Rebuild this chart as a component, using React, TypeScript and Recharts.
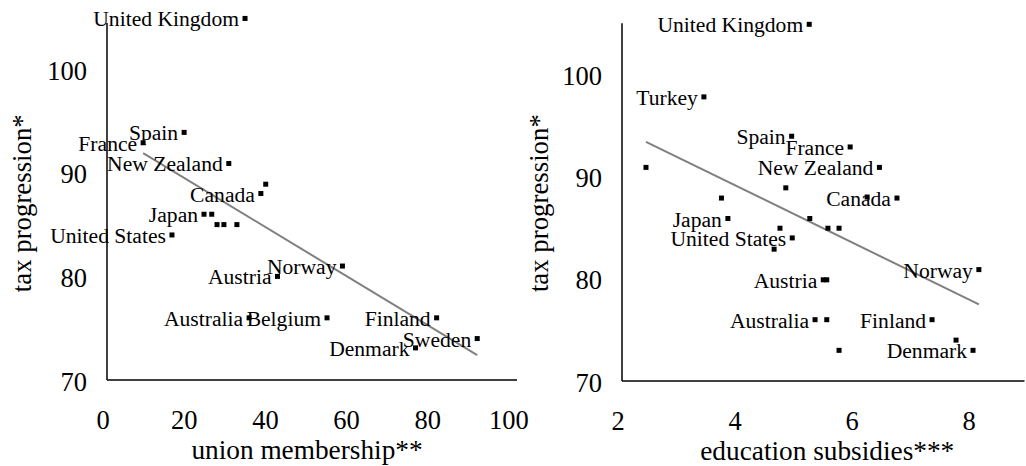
import { ScatterChart, Scatter, XAxis, YAxis, ReferenceLine } from 'recharts';

const FONT = "'Liberation Serif', 'Times New Roman', Times, serif";

// left panel: union membership vs tax progression
const unionNames = ['United Kingdom', 'Spain', 'France', 'New Zealand', 'Canada', '', 'Japan', '', '', '', '', 'United States', 'Austria', 'Norway', 'Australia', 'Belgium', 'Finland', 'Sweden', 'Denmark'];
const unionX = [34.0, 19.0, 8.9, 30.0, 37.9, 39.1, 23.9, 25.8, 27.1, 28.8, 32.0, 16.0, 42.0, 58.0, 35.0, 54.2, 81.2, 91.2, 76.0];
const unionTax = [104.9, 93.9, 92.9, 90.9, 88.0, 88.9, 86.0, 86.0, 85.0, 85.0, 85.0, 84.0, 80.0, 81.0, 76.0, 76.0, 76.0, 74.0, 73.1];
const unionTicks = [0, 20, 40, 60, 80, 100];
const unionTrendX = [8.9, 91.2];
const unionTrendY = [91.9, 72.4];

// right panel: education subsidies vs tax progression
const eduNames = ['United Kingdom', 'Turkey', '', 'Spain', 'France', 'New Zealand', 'Canada', '', '', '', 'Japan', '', '', '', '', 'United States', '', 'Austria', '', 'Norway', 'Australia', '', 'Finland', '', 'Denmark', ''];
const eduX = [5.20, 3.40, 2.41, 4.90, 5.90, 6.40, 6.70, 6.19, 4.80, 3.70, 3.81, 5.21, 5.52, 5.71, 4.70, 4.91, 4.60, 5.44, 5.50, 8.10, 5.30, 5.50, 7.30, 5.71, 8.00, 7.71];
const eduTax = [104.9, 97.8, 90.9, 93.95, 92.9, 90.9, 87.9, 88.0, 88.9, 87.9, 85.9, 85.9, 84.95, 84.95, 84.95, 84.0, 82.9, 79.9, 79.9, 80.9, 76.0, 76.0, 76.0, 73.0, 73.0, 74.0];
const eduTicks = [2, 4, 6, 8];
const eduTrendX = [2.41, 8.1];
const eduTrendY = [93.4, 77.5];

const taxTicks = [70, 80, 90, 100];

const toPoints = (names: string[], xs: number[], ys: number[]) =>
  xs.map((x, i) => ({ x, y: ys[i], name: names[i] }));

const txt = (size: number) => ({ fontFamily: FONT, fontSize: size, fill: '#000' });

function Point(props: any) {
  const { cx, cy, payload } = props;
  return (
    <g>
      <rect x={cx - 2.5} y={cy - 2.5} width={5} height={5} fill="#000" />
      {payload.name ? (
        <text x={cx - 6} y={cy} dy={1} textAnchor="end" dominantBaseline="central" style={txt(21.6)}>
          {payload.name}
        </text>
      ) : null}
    </g>
  );
}

function XTick({ x, y, payload }: any) {
  return (
    <text x={x - 4} y={y} textAnchor="middle" dominantBaseline="central" style={txt(26.5)}>
      {payload.value}
    </text>
  );
}

function YTick({ x, y, payload }: any) {
  return (
    <text x={x} y={y + 1.5} textAnchor="end" dominantBaseline="central" style={txt(26.5)}>
      {payload.value}
    </text>
  );
}

function XTitle({ viewBox, text, dx }: any) {
  return (
    <text x={viewBox.x + viewBox.width / 2 + dx} y={viewBox.y + 70} textAnchor="middle" dominantBaseline="central" style={txt(27.3)}>
      {text}
    </text>
  );
}

function YTitle({ viewBox, text, left, dy }: any) {
  const cy = viewBox.y + viewBox.height / 2 + dy;
  return (
    <text x={left} y={cy} transform={`rotate(-90 ${left} ${cy})`} textAnchor="middle" dominantBaseline="central" style={txt(26.8)}>
      {text}
    </text>
  );
}

export default function App() {
  const unionData = toPoints(unionNames, unionX, unionTax);
  const eduData = toPoints(eduNames, eduX, eduTax);

  return (
    <div style={{ position: 'absolute', left: 0, top: 0, width: 1026, height: 466, background: '#fff', fontFamily: FONT }}>
      <div style={{ position: 'absolute', left: 0, top: 0 }}>
        <ScatterChart width={540} height={466} margin={{ top: 17.4, right: 23, bottom: 0, left: 0 }}>
          <XAxis type="number" dataKey="x" domain={[0, 101]} ticks={unionTicks} height={86}
            tick={<XTick />} tickLine={false} tickSize={0} tickMargin={40}
            axisLine={{ stroke: '#000', strokeWidth: 1.5 }}
            label={<XTitle text="union membership**" dx={-5} />} />
          <YAxis type="number" dataKey="y" domain={[70, 105]} ticks={taxTicks} width={107}
            tick={<YTick />} tickLine={false} tickSize={0} tickMargin={20} axisLine={false}
            label={<YTitle text="tax progression*" left={22} dy={4.5} />} />
          <ReferenceLine segment={[{ x: 0, y: 70 }, { x: 0, y: 104.45 }]} stroke="#000" strokeWidth={1.5} ifOverflow="visible" />
          <ReferenceLine segment={[{ x: unionTrendX[0], y: unionTrendY[0] }, { x: unionTrendX[1], y: unionTrendY[1] }]}
            stroke="#808080" strokeWidth={2} ifOverflow="visible" />
          <Scatter data={unionData} shape={<Point />} isAnimationActive={false} />
        </ScatterChart>
      </div>
      <div style={{ position: 'absolute', left: 520, top: 0 }}>
        <ScatterChart width={506} height={466} margin={{ top: 23.3, right: 1.5, bottom: 0, left: 0 }}>
          <XAxis type="number" dataKey="x" domain={[2, 8.88]} ticks={eduTicks} height={85}
            tick={<XTick />} tickLine={false} tickSize={0} tickMargin={40}
            axisLine={{ stroke: '#000', strokeWidth: 1.5 }}
            label={<XTitle text="education subsidies***" dx={4} />} />
          <YAxis type="number" dataKey="y" domain={[70, 105]} ticks={taxTicks} width={102}
            tick={<YTick />} tickLine={false} tickSize={0} tickMargin={20}
            axisLine={{ stroke: '#000', strokeWidth: 1.5 }}
            label={<YTitle text="tax progression*" left={19} dy={1} />} />
          <ReferenceLine segment={[{ x: eduTrendX[0], y: eduTrendY[0] }, { x: eduTrendX[1], y: eduTrendY[1] }]}
            stroke="#808080" strokeWidth={2} ifOverflow="visible" />
          <Scatter data={eduData} shape={<Point />} isAnimationActive={false} />
        </ScatterChart>
      </div>
    </div>
  );
}
